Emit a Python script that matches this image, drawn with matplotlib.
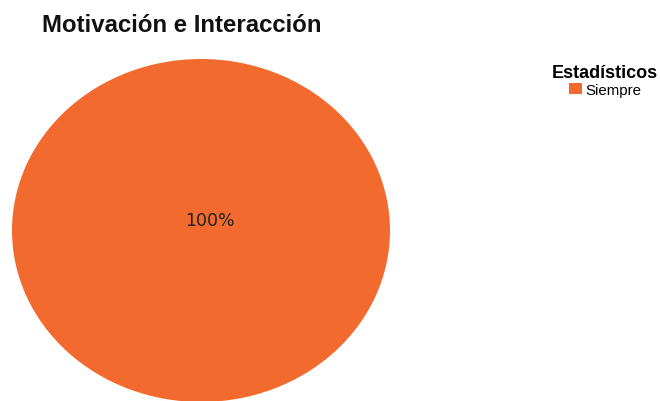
import matplotlib
matplotlib.use("Agg")
import matplotlib.pyplot as plt

title = "Motivación e Interacción"
legend_title = "Estadísticos"
categories = ["Siempre"]
values = [100]
colors = ["#F26A2D"]

W, H = 660, 402
fig = plt.figure(figsize=(W / 100, H / 100), dpi=100)
fig.patch.set_facecolor("white")

# pie area: an ellipse stretched to fill the axes box
ax = fig.add_axes([12 / W, -1 / H, 378 / W, 343 / H])
wedges, texts, autotexts = ax.pie(
    values,
    colors=colors,
    startangle=-127,
    autopct="%1.0f%%",
    pctdistance=0.08,
    radius=1.0,
    wedgeprops=dict(linewidth=0, antialiased=True),
    textprops=dict(fontsize=12.5, color="#222222", family="DejaVu Sans"),
)
for w in wedges:
    w.set_clip_on(False)
ax.set_aspect("auto")
ax.set_xlim(-1, 1)
ax.set_ylim(-1, 1)
ax.axis("off")

fig.text(42 / W, 1 - 32 / H, title, fontsize=17.3, fontweight="bold",
         family="Liberation Sans", ha="left", va="baseline", color="#111111")

leg = fig.legend(
    wedges, categories, title=legend_title,
    loc="upper center", bbox_to_anchor=(605 / W, 1 - 58 / H),
    frameon=False, title_fontproperties=dict(family="Liberation Sans", weight="bold", size=13),
    prop=dict(family="Liberation Sans", size=10.8),
    handlelength=0.9, handleheight=0.7, handletextpad=0.2,
    borderpad=0, labelspacing=0.2,
)
leg._legend_box.sep = 1

fig.savefig("out.png", dpi=100)
